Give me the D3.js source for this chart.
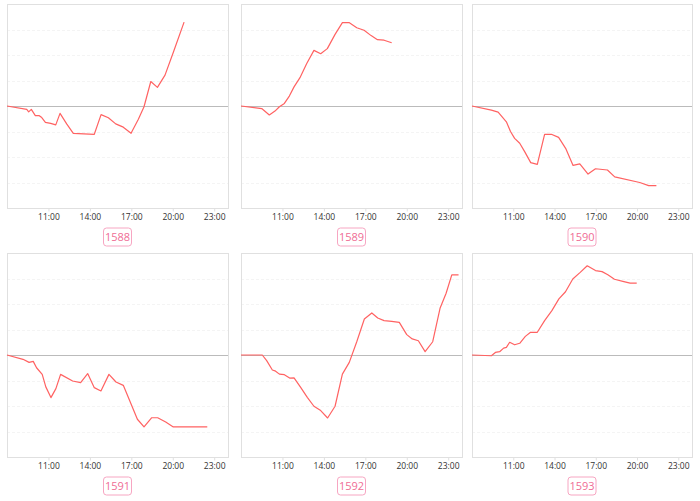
<!DOCTYPE html>
<html>
<head>
<meta charset="utf-8">
<script src="https://cdn.jsdelivr.net/npm/d3@7"></script>
<style>
  html, body { margin: 0; padding: 0; background: #fff; }
  svg { display: block; }
</style>
</head>
<body>
<svg id="chart" width="700" height="501"></svg>
<script>
// ---- data (hours since midnight, relative change in grid units) ----
const panelNames = ["1588", "1589", "1590", "1591", "1592", "1593"];
const tickHours = [11, 14, 17, 20, 23];

const s1588 = [[8.0,0],[9.43,-0.13],[9.57,-0.23],[9.76,-0.13],[10.05,-0.38],[10.34,-0.38],[10.49,-0.44],[10.78,-0.64],[11.16,-0.68],[11.53,-0.74],[11.84,-0.29],[12.32,-0.70],[12.80,-1.07],[14.32,-1.11],[14.81,-0.34],[15.34,-0.46],[15.87,-0.70],[16.42,-0.83],[16.98,-1.07],[17.51,-0.52],[17.92,-0.03],[18.41,0.96],[18.89,0.73],[19.44,1.21],[20.05,2.12],[20.82,3.29]];
const s1589 = [[8.0,0],[9.5,-0.1],[10.05,-0.35],[10.46,-0.2],[10.78,-0.03],[11.14,0.1],[11.5,0.39],[11.84,0.75],[12.27,1.11],[12.75,1.66],[13.28,2.18],[13.77,2.05],[14.25,2.25],[14.81,2.81],[15.34,3.27],[15.82,3.27],[16.38,3.07],[16.91,2.97],[17.42,2.76],[17.88,2.6],[18.36,2.58],[18.91,2.48]];
const s1590 = [[8.0,0],[9.41,-0.16],[9.9,-0.24],[10.5,-0.62],[10.8,-1.0],[11.1,-1.27],[11.47,-1.46],[11.83,-1.79],[12.27,-2.22],[12.75,-2.29],[13.28,-1.11],[13.77,-1.11],[14.3,-1.23],[14.81,-1.66],[15.35,-2.33],[15.84,-2.27],[16.44,-2.67],[16.98,-2.46],[17.85,-2.51],[18.38,-2.78],[20.2,-3.0],[20.85,-3.12],[21.41,-3.12]];
const s1591 = [[8.0,0],[9.16,-0.17],[9.6,-0.29],[9.9,-0.25],[10.14,-0.5],[10.55,-0.76],[10.81,-1.25],[11.18,-1.67],[11.54,-1.32],[11.88,-0.76],[12.75,-1.02],[13.33,-1.08],[13.84,-0.73],[14.32,-1.28],[14.8,-1.41],[15.38,-0.76],[15.89,-1.06],[16.42,-1.19],[17.44,-2.52],[17.92,-2.82],[18.48,-2.46],[18.91,-2.46],[19.49,-2.63],[20.04,-2.82],[22.5,-2.82]];
const s1592 = [[8.0,0],[9.54,0],[9.86,-0.22],[10.27,-0.59],[10.46,-0.62],[10.78,-0.75],[11.14,-0.77],[11.55,-0.91],[11.84,-0.9],[12.32,-1.27],[12.8,-1.66],[13.28,-2.01],[13.77,-2.18],[14.27,-2.47],[14.81,-2.01],[15.34,-0.75],[15.84,-0.29],[16.38,0.52],[16.93,1.41],[17.47,1.65],[17.9,1.45],[18.36,1.35],[18.91,1.32],[19.46,1.28],[20.0,0.8],[20.4,0.63],[20.84,0.56],[21.33,0.13],[21.88,0.52],[22.41,1.83],[22.85,2.42],[23.26,3.14],[23.75,3.14]];
const s1593 = [[8.0,0],[9.41,-0.03],[9.7,0.1],[10.01,0.13],[10.3,0.27],[10.5,0.3],[10.74,0.5],[11.1,0.4],[11.47,0.46],[11.88,0.73],[12.26,0.89],[12.75,0.89],[13.28,1.35],[13.81,1.74],[14.32,2.2],[14.8,2.48],[15.33,2.98],[15.87,3.24],[16.38,3.5],[16.98,3.31],[17.46,3.27],[17.88,3.15],[18.36,2.97],[18.97,2.89],[19.5,2.82],[19.98,2.82]];
const seriesList = [s1588, s1589, s1590, s1591, s1592, s1593];

// ---- layout ----
const colX = [[7, 228], [241, 462], [472, 692]];
const rowY = [[4, 208], [253, 457]];
const svg = d3.select("#chart");
const fontFam = "'Open Sans', 'DejaVu Sans', sans-serif";

seriesList.forEach((data, i) => {
  const c = i % 3, r = Math.floor(i / 3);
  const [x0, x1] = colX[c];
  const [y0, y1] = rowY[r];
  const x = d3.scaleLinear().domain([8, 24]).range([x0, x1]);
  const y = d3.scaleLinear().domain([-4, 4]).range([y1, y0]);
  const g = svg.append("g");

  // gridlines
  g.selectAll("line.grid").data([-3,-2,-1,1,2,3]).enter().append("line")
    .attr("x1", x0).attr("x2", x1)
    .attr("y1", d => Math.round(y(d)) + 0.5).attr("y2", d => Math.round(y(d)) + 0.5)
    .attr("stroke", "#f4f4f4").attr("stroke-dasharray", "3,2").attr("stroke-width", 1);

  // frame
  g.append("rect").attr("x", x0 + 0.5).attr("y", y0 + 0.5)
    .attr("width", x1 - x0).attr("height", y1 - y0)
    .attr("fill", "none").attr("stroke", "#e0e0e0").attr("stroke-width", 1);

  // zero line
  g.append("line").attr("x1", x0).attr("x2", x1)
    .attr("y1", Math.round(y(0)) + 0.5).attr("y2", Math.round(y(0)) + 0.5)
    .attr("stroke", "#bbbbbb").attr("stroke-width", 1.2);

  // axis
  const ax = g.append("g").attr("transform", `translate(0,${y1 + 0.5})`)
    .call(d3.axisBottom(x).tickValues(tickHours).tickFormat(h => h + ":00").tickSize(3).tickPadding(2));
  ax.select(".domain").remove();
  ax.selectAll(".tick line").attr("stroke", "#e0e0e0");
  ax.selectAll(".tick text").attr("fill", "#333").style("font-size", "8.5px").style("font-family", fontFam);

  // line
  const line = d3.line().x(d => x(d[0])).y(d => y(d[1]));
  g.append("path").datum(data).attr("d", line)
    .attr("fill", "none").attr("stroke", "#ff6262").attr("stroke-width", 1.2)
    .attr("stroke-linejoin", "round");

  // label box
  const cx = (x0 + x1) / 2;
  const by = y1 + 20;
  const lbl = g.append("g").attr("transform", `translate(${cx},${by})`);
  lbl.append("rect").attr("x", -14).attr("y", 0).attr("width", 28).attr("height", 18)
    .attr("rx", 3).attr("fill", "#fff").attr("stroke", "#f7a6c2").attr("stroke-width", 1);
  lbl.append("text").attr("x", 0).attr("y", 13).attr("text-anchor", "middle")
    .attr("fill", "#ef6d95").style("font-size", "11px").style("font-family", fontFam)
    .text(panelNames[i]);
});
</script>
</body>
</html>
